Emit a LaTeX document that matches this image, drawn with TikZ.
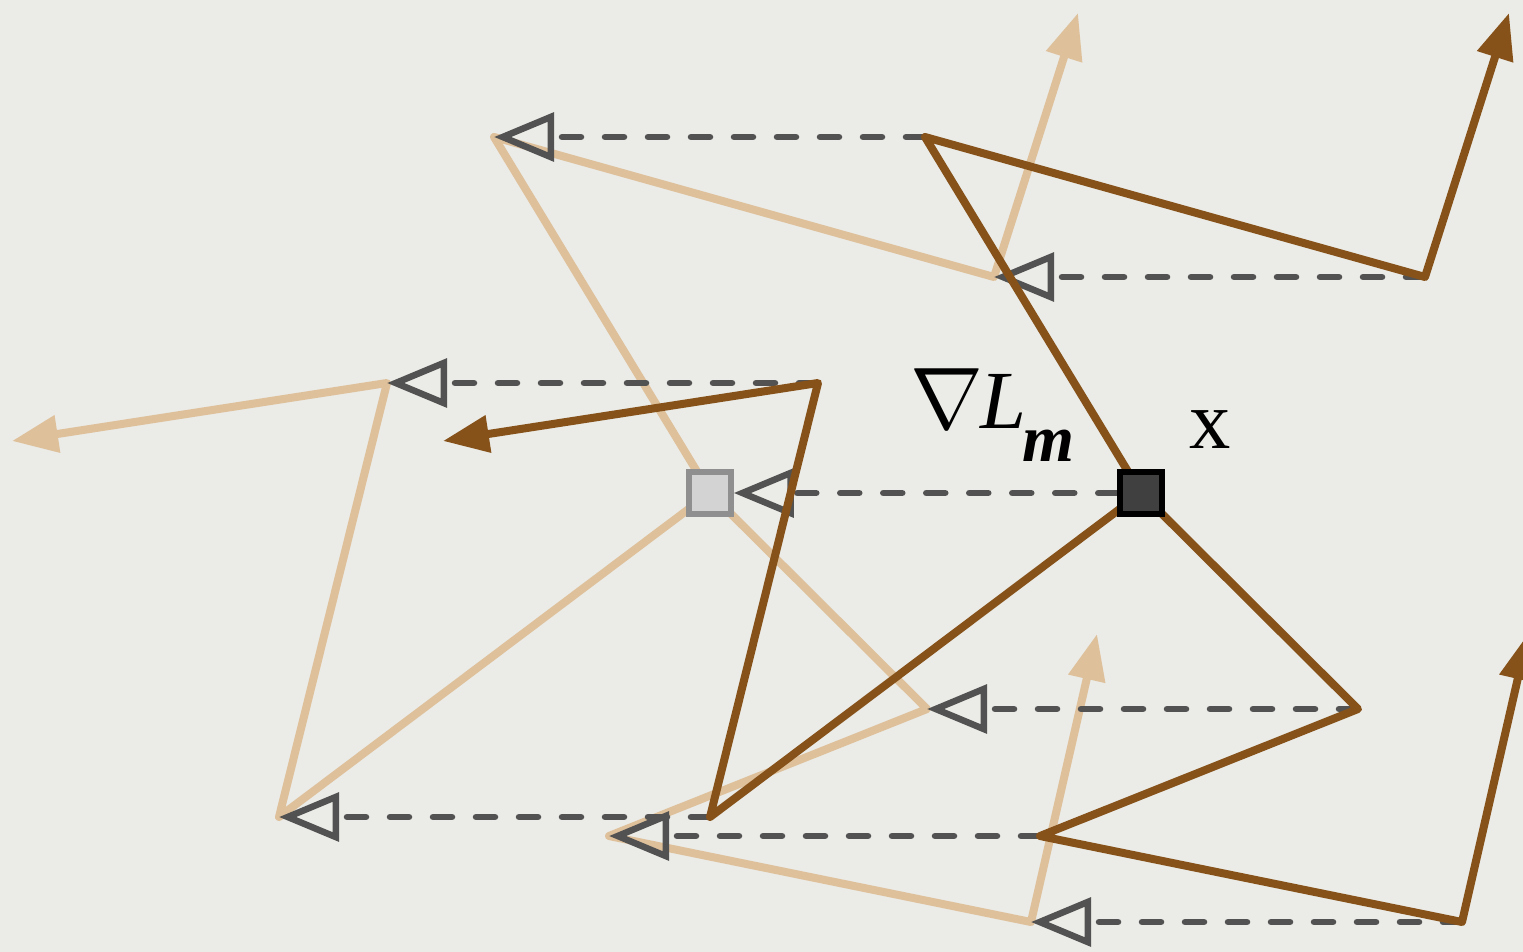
\documentclass[tikz,border=0pt]{standalone}
\usepackage{fontspec}
\setmainfont{Liberation Serif}
\usetikzlibrary{arrows.meta,backgrounds}
\definecolor{PaperGray}{RGB}{235,235,231}
\definecolor{WalkBrown}{RGB}{134,82,26}
\definecolor{WalkTan}{RGB}{222,192,154}
\definecolor{ShiftGray}{RGB}{82,82,82}
\definecolor{XDark}{RGB}{64,64,64}
\definecolor{GhostEdge}{RGB}{143,143,143}
\definecolor{GhostFill}{RGB}{211,211,211}

\begin{document}
\begin{tikzpicture}[x=0.1mm,y=-0.1mm,
  walk/.style={line width=0.8mm,line join=round,
               -{Triangle[length=4.6mm,width=3.6mm]}},
  shiftarrow/.style={ShiftGray,line width=0.65mm,line cap=round,
               dash pattern=on 1.9mm off 2.4mm,
               -{Triangle[open,length=6mm,width=4.8mm]}},
  sq/.style={rectangle,minimum size=4.2mm,inner sep=0pt,line width=0.55mm},
  lbl/.style={font=\fontsize{23.5pt}{24pt}\selectfont,inner sep=0pt},
]
\useasboundingbox (0,0) rectangle (1523,952);
% vertices of the walk around x, and the same walk shifted left
\foreach \n/\px/\py in {x/1141/493,a/925/137,b/1425/277,ta/1509/13,
    c/710/817,d/818/383,tc/443/441,
    e/1358/709,f/1040/836,g/1462/922,tg/1528/634}{
  \coordinate (d\n) at (\px,\py);
  \coordinate (l\n) at (\px-431,\py);
}
% the point x and its shifted copy
\node[sq,draw=black,fill=XDark] (x) at (dx) {};
\node[sq,draw=GhostEdge,fill=GhostFill] (xl) at (lx) {};
\node[lbl,anchor=base west] (grad) at (910,428)
  {$\nabla$\kern-0.04em\textit{L}\kern-0.05em\raisebox{-3.3mm}{\fontsize{19pt}{19pt}\selectfont\bfseries\itshape m}};
\node[lbl,anchor=base west] (xname) at (1189,448) {x};

\begin{scope}[on background layer]
\fill[PaperGray] (0,0) rectangle (1523,952);
% shifted walk
\draw[walk,WalkTan] (lx) -- (la) -- (lb) -- (lta);
\draw[walk,WalkTan] (lx) -- (lc) -- (ld) -- (ltc);
\draw[walk,WalkTan] (lx) -- (le) -- (lf) -- (lg) -- (ltg);
% shift of each vertex
\foreach \n in {a,b,c,d,e,f,g}
  \draw[shiftarrow] (d\n) -- (l\n);
\draw[shiftarrow] (x) -- (xl);
% walk around x
\draw[walk,WalkBrown] (dx) -- (da) -- (db) -- (dta);
\draw[walk,WalkBrown] (dx) -- (dc) -- (dd) -- (dtc);
\draw[walk,WalkBrown] (dx) -- (de) -- (df) -- (dg) -- (dtg);
\end{scope}
\end{tikzpicture}
\end{document}
